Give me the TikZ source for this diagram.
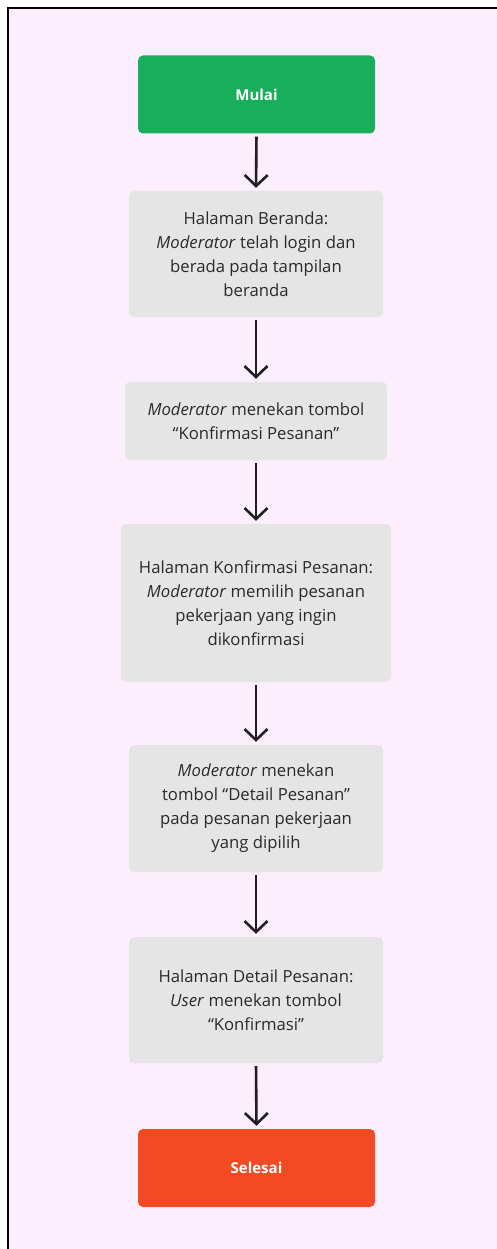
\documentclass[tikz,border=0pt]{standalone}
\usepackage{fontspec}
\setmainfont{Open Sans}
\usetikzlibrary{arrows.meta}
\definecolor{bgpink}{HTML}{FDEEFD}
\definecolor{boxgray}{HTML}{E5E5E5}
\definecolor{startgreen}{HTML}{19AE5B}
\definecolor{endred}{HTML}{F24A22}
\definecolor{txtgray}{HTML}{2A2A2A}
\tikzset{
  x=1pt,y=-1pt,
  stepbox/.style={
    rectangle,rounded corners=5pt,fill=boxgray,text=txtgray,
    align=center,inner sep=0pt,
    font=\fontsize{16.7}{24}\selectfont
  },
  termbox/.style={
    rectangle,rounded corners=5pt,text=white,
    minimum width=237pt,minimum height=78pt,inner sep=0pt,
    font=\fontsize{15}{18}\selectfont\bfseries
  },
  flow/.style={
    line width=2.6pt,color=black!88,shorten <=3pt,shorten >=3pt,
    -{Straight Barb[length=11pt,width=23pt,line width=2.6pt]}
  }
}
\begin{document}
\begin{tikzpicture}
\useasboundingbox (0,0) rectangle (497,1249);
\draw[fill=bgpink,line width=1.5pt] (8,8) rectangle (510,1260);
% terminal nodes
\node[termbox,fill=startgreen] (mulai) at (256.5,94.5) {Mulai};
\node[termbox,fill=endred] (selesai) at (256.5,1168) {Selesai};
% steps
\node[stepbox,minimum width=254pt,minimum height=126pt] (beranda) at (256,254)
  {Halaman Beranda:\\\textit{Moderator} telah login dan\\berada pada tampilan\\beranda};
\node[stepbox,minimum width=262pt,minimum height=78pt] (tombolkonf) at (256,421)
  {\textit{Moderator} menekan tombol\\“Konfirmasi Pesanan”};
\node[stepbox,minimum width=270pt,minimum height=158pt] (konfirmasi) at (256,603)
  {Halaman Konfirmasi Pesanan:\\\textit{Moderator} memilih pesanan\\pekerjaan yang ingin\\dikonfirmasi};
\node[stepbox,minimum width=254pt,minimum height=127pt] (tomboldetail) at (256,808.5)
  {\textit{Moderator} menekan\\tombol “Detail Pesanan”\\pada pesanan pekerjaan\\yang dipilih};
\node[stepbox,minimum width=254pt,minimum height=126pt] (detail) at (256,1000)
  {Halaman Detail Pesanan:\\\textit{User} menekan tombol\\“Konfirmasi”};
% arrows
\foreach \a/\b in {mulai/beranda,beranda/tombolkonf,tombolkonf/konfirmasi,
  konfirmasi/tomboldetail,tomboldetail/detail,detail/selesai}
  \draw[flow] (\a.south) -- (\b.north);
\end{tikzpicture}
\end{document}
